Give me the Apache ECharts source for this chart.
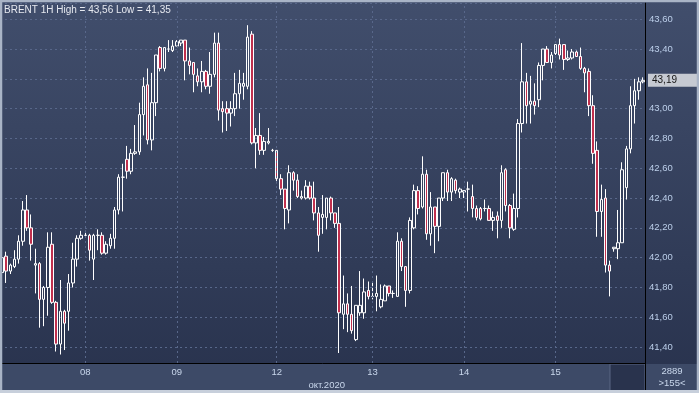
<!DOCTYPE html>
<html><head><meta charset="utf-8">
<script src="https://cdn.jsdelivr.net/npm/echarts@6/dist/echarts.min.js"></script>
<style>html,body{margin:0;padding:0;background:#2f3a56}#c{width:699px;height:393px}</style>
</head><body><div id="c"></div>
<script>
const instrument = 'BRENT';
const timeframe = '1H';
const monthLabel = 'окт.2020';
const barsTotalLabel = '2889';
const dayLabels = ['07', '08', '09', '12', '13', '14', '15'];
const dayFirstBar = [0, 20, 42, 66, 89, 111, 133];

const opens = [
41.90,42.01,41.91,41.94,41.99,42.11,42.32,42.20,41.95,41.96,
41.72,41.80,42.09,41.70,41.42,41.64,41.64,41.83,41.99,42.13,
42.15,42.15,41.99,42.15,42.15,42.03,42.08,42.13,42.32,42.54,
42.66,42.58,42.70,42.71,42.96,43.16,42.79,43.04,43.41,43.27,
43.40,43.39,43.42,43.44,43.46,43.32,43.31,43.22,43.18,43.25,
43.15,43.23,43.44,43.00,43.00,42.97,43.00,43.10,43.15,43.15,
43.50,42.77,42.82,42.72,42.77,42.72,42.72,42.53,42.46,42.32,
42.57,42.52,42.40,42.40,42.48,42.40,42.30,42.27,42.27,42.40,
42.30,42.23,41.62,41.69,41.62,41.45,41.63,41.63,41.78,41.74,
41.74,41.67,41.71,41.81,41.76,41.74,42.11,41.94,41.78,42.20,
42.45,42.34,42.56,42.16,42.34,42.21,42.40,42.57,42.44,42.52,
42.44,42.44,42.46,42.41,42.33,42.33,42.33,42.33,42.25,42.28,
42.25,42.59,42.35,42.19,42.33,42.90,43.18,43.03,43.05,43.06,
43.29,43.40,43.31,43.37,43.43,43.43,43.33,43.34,43.38,43.35,
43.27,43.25,43.02,42.72,42.31,42.40,41.95,42.06,42.06,42.10,
42.47,42.73,43.02,43.12,43.18];
const closes = [
42.00,41.91,41.95,41.99,42.11,42.32,42.20,42.09,41.96,41.72,
41.80,42.07,41.70,41.42,41.64,41.56,41.83,41.99,42.13,42.15,
42.15,42.05,42.15,42.15,42.03,42.09,42.13,42.32,42.54,42.54,
42.58,42.70,42.71,42.96,43.15,42.79,43.04,43.36,43.27,43.41,
43.40,43.42,43.45,43.46,43.32,43.29,43.23,43.18,43.25,43.15,
43.23,43.44,42.99,42.98,42.97,43.00,43.10,43.17,43.17,43.48,
42.77,42.82,42.72,42.78,42.78,42.72,42.53,42.46,42.33,42.57,
42.52,42.41,42.41,42.48,42.40,42.30,42.15,42.29,42.40,42.30,
42.23,41.63,41.69,41.62,41.51,41.68,41.68,41.77,41.74,41.74,
41.76,41.72,41.81,41.76,41.76,42.11,41.94,41.78,42.25,42.45,
42.33,42.56,42.16,42.34,42.21,42.40,42.57,42.44,42.53,42.45,
42.46,42.45,42.46,42.33,42.27,42.26,42.33,42.25,42.27,42.25,
42.57,42.35,42.20,42.33,42.90,43.18,43.02,43.05,43.02,43.29,
43.40,43.31,43.36,43.43,43.36,43.33,43.34,43.38,43.35,43.27,
43.24,43.02,42.70,42.31,42.39,41.95,41.91,42.07,42.10,42.59,
42.73,43.02,43.12,43.18,43.19];
const lows = [
41.86,41.83,41.89,41.93,41.96,42.08,42.18,41.98,41.76,41.53,
41.54,41.61,41.69,41.37,41.35,41.38,41.51,41.80,41.94,42.12,
42.15,41.98,41.85,42.05,42.02,42.02,42.06,42.06,42.29,42.31,
42.53,42.56,42.69,42.69,42.82,42.76,42.72,42.95,43.25,43.25,
43.38,43.38,43.42,43.42,43.19,43.23,43.11,43.15,43.11,43.13,
43.10,43.21,42.92,42.84,42.85,42.88,42.95,43.00,43.06,43.13,
42.76,42.60,42.69,42.69,42.76,42.71,42.50,42.42,42.19,42.23,
42.45,42.40,42.39,42.39,42.39,42.25,42.04,42.16,42.19,42.25,
42.20,41.36,41.52,41.50,41.49,41.44,41.61,41.59,41.72,41.72,
41.64,41.66,41.71,41.74,41.73,41.74,41.91,41.67,41.76,42.19,
42.29,42.33,42.12,42.08,42.03,42.11,42.38,42.38,42.38,42.43,
42.40,42.40,42.31,42.27,42.25,42.25,42.31,42.25,42.18,42.13,
42.20,42.31,42.13,42.18,42.27,42.84,42.90,42.90,42.96,43.01,
43.19,43.31,43.27,43.36,43.33,43.26,43.32,43.33,43.35,43.26,
43.11,42.95,42.63,42.14,42.14,41.90,41.74,42.04,41.99,42.10,
42.39,42.70,42.90,43.06,43.17];
const highs = [
42.03,42.04,41.96,42.05,42.15,42.38,42.42,42.29,42.06,41.97,
41.81,42.17,42.17,41.71,41.85,41.65,41.89,42.10,42.15,42.18,
42.18,42.16,42.16,42.19,42.17,42.11,42.16,42.34,42.56,42.63,
42.75,42.73,42.89,43.04,43.21,43.27,43.24,43.36,43.42,43.41,
43.46,43.46,43.46,43.46,43.46,43.41,43.31,43.27,43.32,43.26,
43.38,43.51,43.51,43.05,43.05,43.05,43.24,43.26,43.24,43.56,
43.52,42.87,42.97,42.81,42.87,42.73,42.72,42.56,42.46,42.62,
42.58,42.56,42.45,42.52,42.51,42.51,42.34,42.42,42.40,42.41,
42.30,42.34,41.88,41.76,41.81,41.68,41.91,41.86,41.84,41.84,
41.88,41.82,41.82,41.81,41.78,42.17,42.13,41.94,42.27,42.49,
42.48,42.68,42.59,42.44,42.34,42.40,42.57,42.59,42.54,42.53,
42.47,42.45,42.51,42.49,42.35,42.34,42.39,42.35,42.31,42.31,
42.62,42.60,42.36,42.43,42.93,43.44,43.24,43.22,43.17,43.31,
43.40,43.42,43.38,43.43,43.47,43.43,43.39,43.40,43.39,43.41,
43.28,43.27,43.09,42.78,42.49,42.46,41.98,42.07,42.32,42.64,
42.75,43.15,43.20,43.21,43.21];

const fmt = v => v.toFixed(2).replace('.', ',');
const n = opens.length;
const categories = [];
for (let i = 0; i < n; i++) {
  let d = 0;
  for (let k = 0; k < dayFirstBar.length; k++) if (i >= dayFirstBar[k]) d = k;
  categories.push(dayLabels[d] + '#' + (i - dayFirstBar[d]));
}
const candles = opens.map((o, i) => [o, closes[i], lows[i], highs[i]]);
const maxHigh = Math.max(...highs), minLow = Math.min(...lows);
const lastClose = closes[n - 1];

const chart = echarts.init(document.getElementById('c'));
const FONT = 'Liberation Sans';
const dayLines = dayFirstBar.slice(1).map(i => ({xAxis: categories[i],
  lineStyle: {color: '#58678a', type: [2, 3], width: 1}, label: {show: false}}));

chart.setOption({
  animation: false,
  backgroundColor: {type: 'linear', x: 0, y: 0, x2: 0, y2: 1,
    colorStops: [{offset: 0, color: '#414e6c'}, {offset: 1, color: '#28324d'}]},
  title: {text: `${instrument} ${timeframe} High = ${fmt(maxHigh)} Low = ${fmt(minLow)}`,
    left: 4, top: 5, padding: 0,
    textStyle: {color: '#e6e9f0', fontSize: 10, fontWeight: 'normal', fontFamily: FONT}},
  grid: {left: 0, right: 54, top: 3, bottom: 30, containLabel: false},
  xAxis: {type: 'category', data: categories, boundaryGap: true,
    axisLine: {show: true, lineStyle: {color: '#000', width: 1}},
    axisTick: {show: false}, splitLine: {show: false},
    axisLabel: {color: '#c9d7ec', fontSize: 9.5, fontFamily: FONT, margin: 4,
      interval: (idx) => dayFirstBar.indexOf(idx) > 0,
      formatter: (v) => v.split('#')[0]}},
  yAxis: {type: 'value', position: 'right', scale: true,
    min: 41.293, max: 43.709, splitNumber: 12,
    axisLine: {show: true, lineStyle: {color: '#000', width: 1}},
    axisTick: {show: false},
    splitLine: {show: true, lineStyle: {color: '#58678a', type: [2, 3], width: 1}},
    axisLabel: {color: '#bccfea', fontSize: 9.5, fontFamily: FONT, margin: 4,
      showMinLabel: false, showMaxLabel: false, formatter: fmt}},
  series: [{
    type: 'candlestick', data: candles, barWidth: 3,
    itemStyle: {color: 'rgba(0,0,0,0)', color0: '#c0304e',
      borderColor: '#ffffff', borderColor0: '#ffffff', borderColorDoji: '#ffffff', borderWidth: 1},
    markLine: {silent: true, symbol: 'none', animation: false,
      data: dayLines.concat([{yAxis: lastClose,
        lineStyle: {color: 'rgba(0,0,0,0)', width: 1},
        label: {show: true, position: 'end', distance: 3, formatter: fmt(lastClose),
          backgroundColor: '#c6cad2', color: '#151515', fontSize: 10, fontFamily: FONT,
          padding: [2, 20, 1, 4]}}])}
  }],
  graphic: [
    {type: 'rect', z: -1, shape: {x: 0, y: 364, width: 699, height: 29}, style: {fill: '#3d4a67'}},
    {type: 'rect', z: -1, shape: {x: 610, y: 364, width: 35, height: 27}, style: {fill: '#29334d', stroke: '#5a6684', lineWidth: 1}},
    {type: 'line', z: 50, shape: {x1: 645.5, y1: 363, x2: 645.5, y2: 391}, style: {stroke: '#000', lineWidth: 1}},
    {type: 'text', z: 50, style: {text: monthLabel, x: 345, y: 385, align: 'right', verticalAlign: 'middle',
      fill: '#c9d7ec', font: '9.5px ' + FONT}},
    {type: 'text', z: 50, style: {text: barsTotalLabel, x: 672, y: 371, align: 'center', verticalAlign: 'middle',
      fill: '#c9d7ec', font: '9.5px ' + FONT}},
    {type: 'text', z: 50, style: {text: '>' + n + '<', x: 672, y: 383, align: 'center', verticalAlign: 'middle',
      fill: '#c9d7ec', font: '9.5px ' + FONT}},
    {type: 'rect', z: 100, shape: {x: 1, y: 1, width: 697, height: 391}, style: {fill: null, stroke: '#a9b4c6', lineWidth: 2.5}},
    {type: 'line', z: 100, shape: {x1: 0, y1: 391.5, x2: 699, y2: 391.5}, style: {stroke: '#c7cfdb', lineWidth: 3}}
  ]
});
</script></body></html>
